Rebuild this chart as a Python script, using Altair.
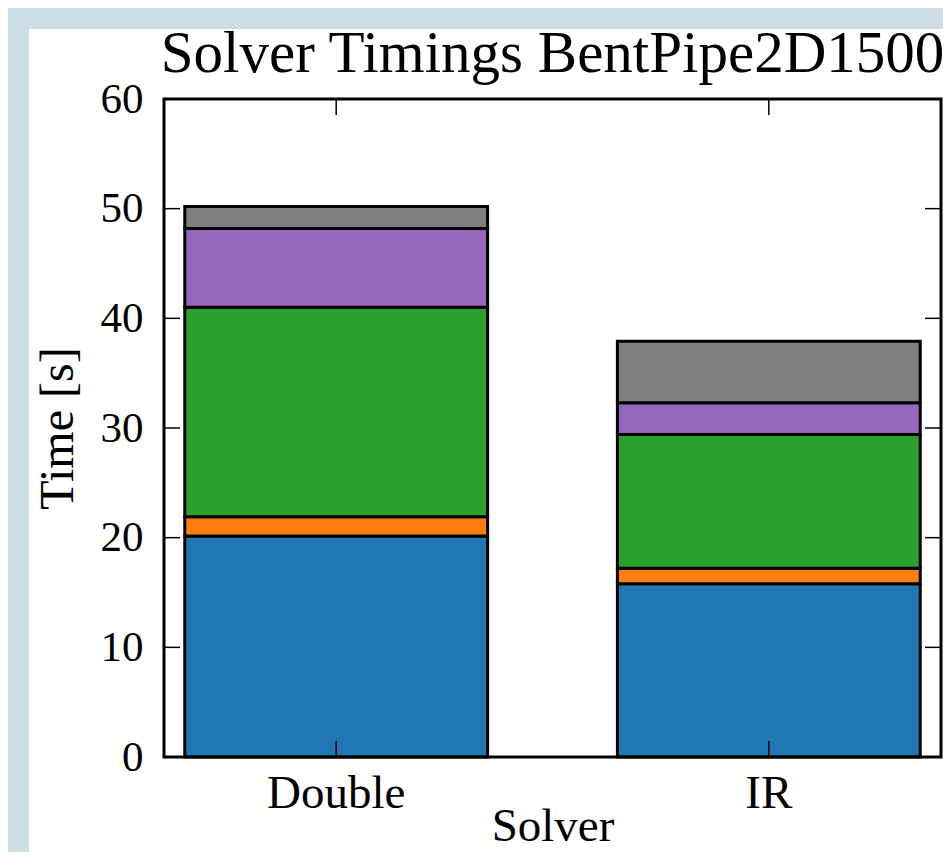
import altair as alt
import pandas as pd

# ---- data ----
solvers = ["Double", "IR"]
stages = ["Stage 1", "Stage 2", "Stage 3", "Stage 4", "Stage 5"]
double_times = [20.15, 1.75, 19.1, 7.2, 2.0]
ir_times = [15.8, 1.4, 12.2, 2.9, 5.6]
stage_colors = ["#1f77b4", "#ff7f0e", "#2ca02c", "#9467bd", "#7f7f7f"]
y_ticks = [0, 10, 20, 30, 40, 50, 60]

rows = []
for solver, times in zip(solvers, [double_times, ir_times]):
    for i, (stage, t) in enumerate(zip(stages, times)):
        rows.append({"Solver": solver, "Stage": stage, "order": i, "Time": t})
df = pd.DataFrame(rows)

W, H = 777, 658
PAD_L, PAD_T, PAD_R, PAD_B = 156, 91, 2, 95
FONT = "Liberation Serif"
TICK = 16
EDGE = "#cddde5"

xscale = alt.Scale(domain=solvers, paddingInner=0.3, paddingOuter=0.048)
yscale = alt.Scale(domain=[0, 60], nice=False)

x_axis = alt.Axis(
    title="Solver",
    labelAngle=0,
    ticks=False,
    tickSize=0,
    domain=False,
    grid=False,
    labelFont=FONT,
    labelFontSize=47,
    labelColor="black",
    labelBaseline="alphabetic",
    labelPadding=50,
    titleFont=FONT,
    titleFontSize=47,
    titleFontWeight="normal",
    titleColor="black",
    titleBaseline="alphabetic",
    titleY=83,
    zindex=1,
)
y_axis = alt.Axis(
    title="Time [s]",
    values=y_ticks,
    ticks=False,
    tickSize=0,
    domain=False,
    grid=False,
    labelFlush=False,
    labelFont=FONT,
    labelFontSize=43,
    labelColor="black",
    labelPadding=21,
    labelBaseline="middle",
    titleFont=FONT,
    titleFontSize=48,
    titleFontWeight="normal",
    titleColor="black",
    titleAngle=270,
    titleAlign="center",
    titleBaseline="alphabetic",
    titleX=-92,
    titleY=H / 2,
    zindex=1,
)

one = pd.DataFrame({"p": [0]})

# blue-grey margins of the figure (top and left strips)
top_strip = alt.Chart(one).mark_rect(fill=EDGE).encode(
    x=alt.value(-PAD_L), x2=alt.value(W + PAD_R), y=alt.value(-PAD_T), y2=alt.value(-70)
)
left_strip = alt.Chart(one).mark_rect(fill=EDGE).encode(
    x=alt.value(-PAD_L), x2=alt.value(-135), y=alt.value(-PAD_T), y2=alt.value(H + PAD_B)
)

bars = alt.Chart(df).mark_bar(stroke="black", strokeWidth=3).encode(
    x=alt.X("Solver:N", scale=xscale, sort=solvers, axis=x_axis),
    y=alt.Y("Time:Q", stack="zero", scale=yscale, axis=y_axis),
    color=alt.Color("Stage:N", scale=alt.Scale(domain=stages, range=stage_colors), legend=None),
    order=alt.Order("order:Q", sort="ascending"),
)

ytick_df = pd.DataFrame({"Time": y_ticks})
xtick_df = pd.DataFrame({"Solver": solvers})

ytl = alt.Chart(ytick_df).mark_rule(color="black", strokeWidth=1.5).encode(
    y=alt.Y("Time:Q", scale=yscale, axis=y_axis), x=alt.value(0), x2=alt.value(TICK)
)
ytr = alt.Chart(ytick_df).mark_rule(color="black", strokeWidth=1.5).encode(
    y=alt.Y("Time:Q", scale=yscale, axis=y_axis), x=alt.value(W - TICK), x2=alt.value(W)
)
xtb = alt.Chart(xtick_df).mark_rule(color="black", strokeWidth=1.5).encode(
    x=alt.X("Solver:N", scale=xscale, sort=solvers, axis=x_axis), y=alt.value(H - TICK), y2=alt.value(H)
)
xtt = alt.Chart(xtick_df).mark_rule(color="black", strokeWidth=1.5).encode(
    x=alt.X("Solver:N", scale=xscale, sort=solvers, axis=x_axis), y=alt.value(0), y2=alt.value(TICK)
)

frame = alt.Chart(one).mark_rect(fillOpacity=0, stroke="black", strokeWidth=3).encode(
    x=alt.value(0), x2=alt.value(W), y=alt.value(0), y2=alt.value(H)
)

chart = (
    alt.layer(top_strip, left_strip, bars, ytl, ytr, xtb, xtt, frame)
    .properties(
        width=W,
        height=H,
        title=alt.TitleParams(
            "Solver Timings BentPipe2D1500",
            font=FONT,
            fontSize=59,
            fontWeight="normal",
            color="black",
            anchor="middle",
            frame="group",
            baseline="alphabetic",
            offset=-123,
            zindex=1,
        ),
        background="white",
        padding={"left": PAD_L, "top": PAD_T, "right": PAD_R, "bottom": PAD_B},
        autosize=alt.AutoSizeParams(type="none"),
    )
    .configure_view(stroke="transparent")
)

chart.save("out.html", embed_options={"renderer": "svg", "actions": False})
